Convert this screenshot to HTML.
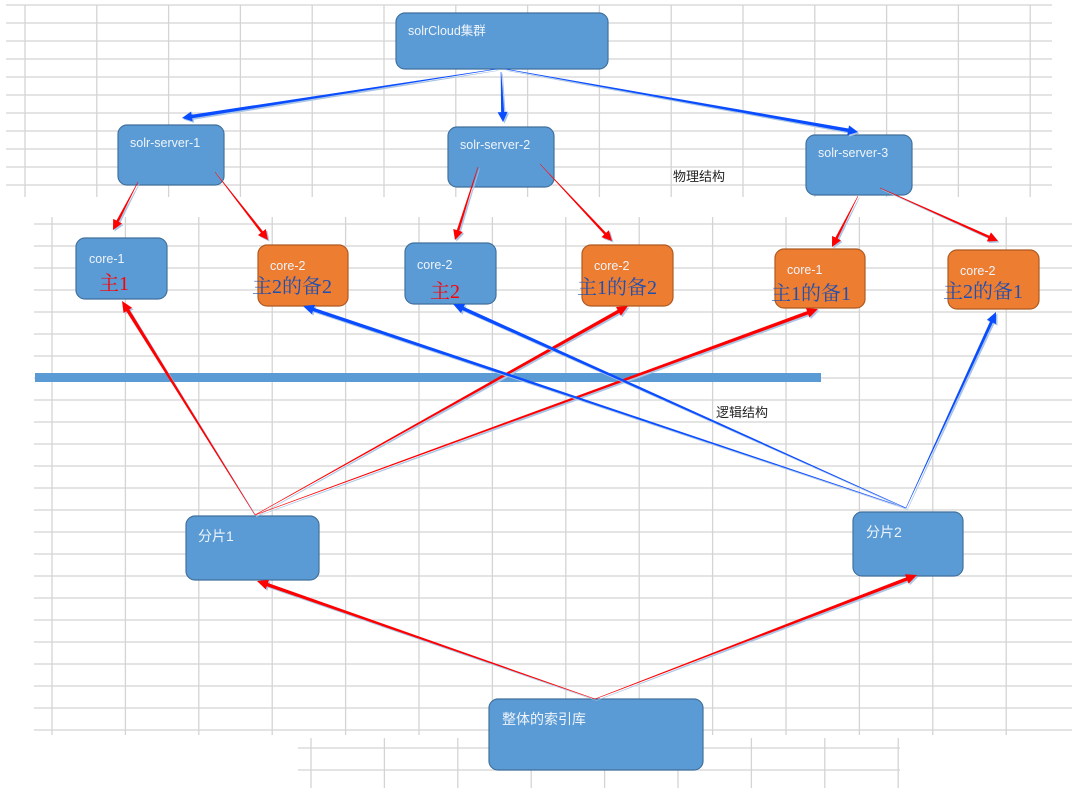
<!DOCTYPE html>
<html><head><meta charset="utf-8"><style>
html,body{margin:0;padding:0;background:#fff;}
svg{display:block;}
text{font-family:"Liberation Sans","Noto Sans CJK SC",sans-serif;}
.w{fill:#eef4fb;font-size:12.5px;}
.lab{fill:#222;font-size:13px;}
.big{font-family:"Liberation Serif","Noto Serif CJK SC",serif;font-size:20px;}
</style></head><body>
<svg id="s" width="1072" height="788" viewBox="0 0 1072 788" xmlns="http://www.w3.org/2000/svg">
<g id="grid" stroke="#d4d4d4" stroke-width="1.3"></g>
<rect x="35" y="373" width="786" height="9" fill="#5b9bd5"/>
<g stroke="#41719c" stroke-width="1.2">
<rect x="396" y="13" width="212" height="56" rx="9" fill="#5b9bd5"/>
<rect x="118" y="125" width="106" height="60" rx="9" fill="#5b9bd5"/>
<rect x="448" y="127" width="106" height="60" rx="9" fill="#5b9bd5"/>
<rect x="806" y="135" width="106" height="60" rx="9" fill="#5b9bd5"/>
<rect x="76" y="238" width="91" height="61" rx="9" fill="#5b9bd5"/>
<rect x="405" y="243" width="91" height="61" rx="9" fill="#5b9bd5"/>
<rect x="186" y="516" width="133" height="64" rx="9" fill="#5b9bd5"/>
<rect x="853" y="512" width="110" height="64" rx="9" fill="#5b9bd5"/>
<rect x="489" y="699" width="214" height="71" rx="9" fill="#5b9bd5"/>
</g>
<g stroke="#ae5a21" stroke-width="1.2" fill="#ed7d31">
<rect x="258" y="245" width="90" height="61" rx="9"/>
<rect x="582" y="245" width="91" height="61" rx="9"/>
<rect x="775" y="249" width="90" height="59" rx="9"/>
<rect x="948" y="250" width="91" height="59" rx="9"/>
</g>
<text class="w" x="408" y="35">solrCloud集群</text>
<text class="w" x="130" y="147">solr-server-1</text>
<text class="w" x="460" y="149">solr-server-2</text>
<text class="w" x="818" y="157">solr-server-3</text>
<text class="w" x="89" y="263">core-1</text>
<text class="w" x="270" y="270">core-2</text>
<text class="w" x="417" y="269">core-2</text>
<text class="w" x="594" y="270">core-2</text>
<text class="w" x="787" y="274">core-1</text>
<text class="w" x="960" y="275">core-2</text>
<text class="w" x="198" y="541" style="font-size:14px">分片1</text>
<text class="w" x="866" y="537" style="font-size:14px">分片2</text>
<text class="w" x="502" y="724" style="font-size:14px">整体的索引库</text>
<text class="lab" x="673" y="181">物理结构</text>
<text class="lab" x="716" y="417">逻辑结构</text>
<text class="big" x="99" y="290" fill="#ff0000">主1</text>
<text class="big" x="430" y="298" fill="#ff0000">主2</text>
<text class="big" x="252" y="293" fill="#1f4fb0">主2的备2</text>
<text class="big" x="577" y="294" fill="#1f4fb0">主1的备2</text>
<text class="big" x="771" y="300" fill="#1f4fb0">主1的备1</text>
<text class="big" x="943" y="298" fill="#1f4fb0">主2的备1</text>
<g id="arr"></g>
</svg>
<script>
var NS="http://www.w3.org/2000/svg";
var g=document.getElementById('grid');
function L(x1,y1,x2,y2){var l=document.createElementNS(NS,'line');l.setAttribute('x1',x1);l.setAttribute('y1',y1);l.setAttribute('x2',x2);l.setAttribute('y2',y2);g.appendChild(l);}
// top grid
for(var y=5;y<=186;y+=18)L(6,y,1052,y);
for(var x=25;x<1055;x+=71.8)L(x,5,x,197);
// lower grid
for(var y=224;y<=731;y+=22)L(34,y,1072,y);
for(var x=52;x<1072;x+=73.4)L(x,217,x,735);
// bottom grid
L(298,748,900,748);L(298,770,900,770);
for(var x=311;x<=900;x+=73.4)L(x,738,x,788);
var a=document.getElementById('arr');
function A(x1,y1,x2,y2,c,w0,w1,hl,hw){
 var dx=x2-x1,dy=y2-y1,len=Math.sqrt(dx*dx+dy*dy),ux=dx/len,uy=dy/len,px=-uy,py=ux;
 var bx=x2-ux*hl,by=y2-uy*hl;
 var pts=[[x1+px*w0/2,y1+py*w0/2],[bx+px*w1/2,by+py*w1/2],[bx+px*hw,by+py*hw],[x2,y2],[bx-px*hw,by-py*hw],[bx-px*w1/2,by-py*w1/2],[x1-px*w0/2,y1-py*w0/2]];
 var sh=document.createElementNS(NS,'polygon');
 sh.setAttribute('points',pts.map(function(p){return (p[0]+1.5)+','+(p[1]+1.5)}).join(' '));
 sh.setAttribute('fill','#a9c4e4');a.appendChild(sh);
 var p=document.createElementNS(NS,'polygon');
 p.setAttribute('points',pts.map(function(p){return p[0]+','+p[1]}).join(' '));
 p.setAttribute('fill',c);a.appendChild(p);
}
var B='#0a4cff',R='#ff0000';
A(497,69,182,118,B,0.6,3.5,10,5);
A(501,72,503,122,B,0.6,3,10,5);
A(505,69,858,132,B,0.6,3.5,10,5);
A(138,182,113,230,R,0.5,2.5,10,5);
A(215,172,268,240,R,0.5,2.5,10,5);
A(478,167,455,240,R,0.5,2.5,10,5);
A(540,164,612,241,R,0.5,2.5,10,5);
A(858,196,832,247,R,0.5,2.5,10,5);
A(880,188,998,241,R,0.5,2.5,10,5);
A(255,515,122,301,R,0.5,3.5,11,5);
A(255,515,628,306,R,0.5,3.5,11,5);
A(255,515,818,309,R,0.5,3.5,11,5);
A(906,508,303,306,B,0.5,3.5,11,5);
A(906,508,453,304,B,0.5,3.5,11,5);
A(906,508,996,312,B,0.5,3,11,5);
A(595,699,257,581,R,0.5,3.5,11,5);
A(595,699,917,575,R,0.5,3.5,11,5);
</script>
</body></html>
